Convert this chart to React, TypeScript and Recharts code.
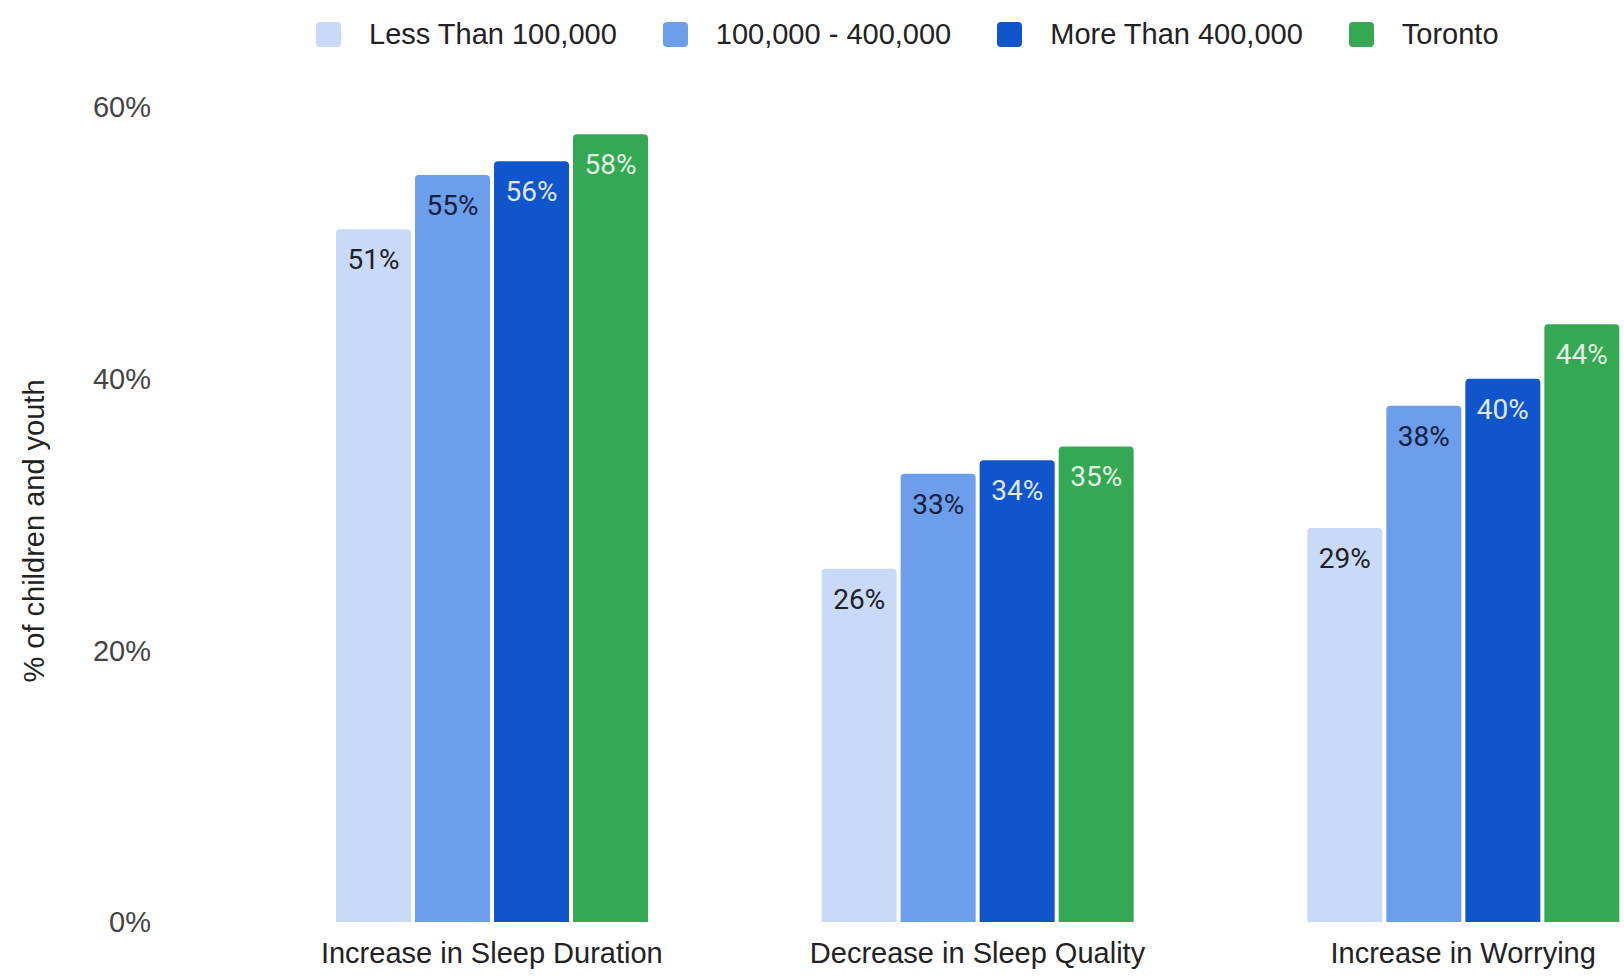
import { BarChart, Bar, XAxis, YAxis, Legend, LabelList, Label } from "recharts";

const CATEGORIES = [
  "Increase in Sleep Duration",
  "Decrease in Sleep Quality",
  "Increase in Worrying",
];
const LESS_THAN_100K = [51, 26, 29];
const FROM_100K_TO_400K = [55, 33, 38];
const MORE_THAN_400K = [56, 34, 40];
const TORONTO = [58, 35, 44];
const Y_TICKS = [0, 20, 40, 60];

const SERIES = [
  { key: "less", name: "Less Than 100,000", color: "#c9daf8", label: "#202124" },
  { key: "mid", name: "100,000 - 400,000", color: "#6d9eeb", label: "#15213f" },
  { key: "more", name: "More Than 400,000", color: "#1155cc", label: "#dfe8fb" },
  { key: "toronto", name: "Toronto", color: "#34a853", label: "#e3f4e7" },
];

const data = CATEGORIES.map((name, i) => ({
  name,
  less: LESS_THAN_100K[i],
  mid: FROM_100K_TO_400K[i],
  more: MORE_THAN_400K[i],
  toronto: TORONTO[i],
}));

const TEXT_FONT = "'Liberation Sans', Arial, sans-serif";

// legend keeps series order instead of the default alphabetical sort
function LegendRow() {
  return (
    <div
      style={{
        display: "flex",
        alignItems: "center",
        height: 60,
        paddingLeft: 316,
        gap: 46,
        fontFamily: TEXT_FONT,
        fontSize: 29,
        color: "#222",
      }}
    >
      {SERIES.map((s) => (
        <div key={s.key} style={{ display: "flex", alignItems: "center" }}>
          <span
            style={{
              width: 25,
              height: 25,
              borderRadius: 4,
              background: s.color,
              marginRight: 28,
              display: "inline-block",
            }}
          />
          <span>{s.name}</span>
        </div>
      ))}
    </div>
  );
}

function AxisTitle() {
  return (
    <text
      x={34}
      y={531}
      transform="rotate(-90 34 531)"
      textAnchor="middle"
      dominantBaseline="central"
      fill="#222"
      fontFamily={TEXT_FONT}
      fontSize={29}
    >
      % of children and youth
    </text>
  );
}

export default function App() {
  return (
    <div
      style={{
        position: "absolute",
        left: 0,
        top: 0,
        width: 1624,
        height: 980,
        overflow: "hidden",
        background: "#fff",
      }}
    >
      <BarChart
        width={1706}
        height={980}
        data={data}
        margin={{ top: 47, right: 0, bottom: 0, left: 0 }}
        barGap={4}
        barCategoryGap={87}
      >
        <Legend
          verticalAlign="top"
          content={<LegendRow />}
          wrapperStyle={{ top: 4, left: 0, width: 1624 }}
        />
        <XAxis
          dataKey="name"
          height={58}
          axisLine={false}
          tickLine={false}
          tickSize={0}
          tickMargin={20}
          interval={0}
          tick={{ fontSize: 29, fill: "#222", fontFamily: TEXT_FONT }}
        />
        <YAxis
          width={249}
          domain={[0, 60]}
          ticks={Y_TICKS}
          axisLine={false}
          tickLine={false}
          tickSize={0}
          tickMargin={98}
          tickFormatter={(v) => `${v}%`}
          tick={{ fontSize: 29, fill: "#444", fontFamily: TEXT_FONT }}
        >
          <Label content={<AxisTitle />} />
        </YAxis>
        {SERIES.map((s) => (
          <Bar
            key={s.key}
            dataKey={s.key}
            name={s.name}
            fill={s.color}
            radius={[4, 4, 0, 0]}
            isAnimationActive={false}
          >
            <LabelList
              dataKey={s.key}
              position="insideTop"
              offset={20}
              fill={s.label}
              fontSize={28}
              fontFamily="Roboto, sans-serif"
              formatter={(v: any) => `${v}%`}
            />
          </Bar>
        ))}
      </BarChart>
    </div>
  );
}
